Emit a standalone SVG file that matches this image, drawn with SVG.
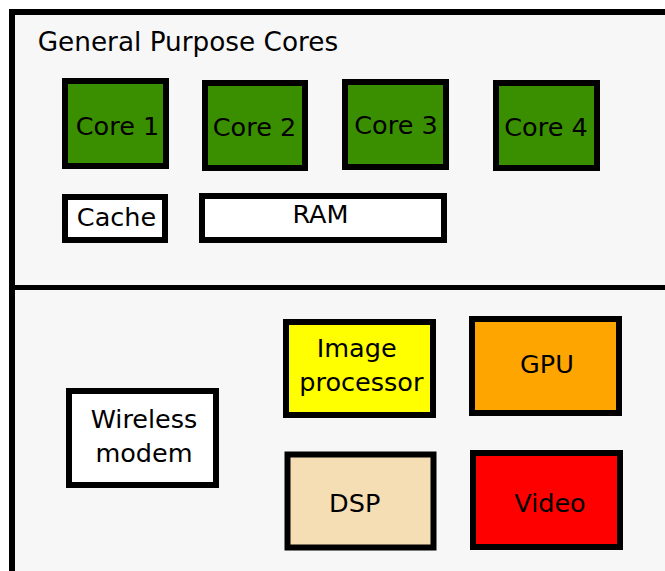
<svg xmlns="http://www.w3.org/2000/svg" width="665" height="571" viewBox="0 0 665 571">
<style>
text{font-family:"DejaVu Sans","Liberation Sans",sans-serif;font-size:25.5px;fill:#000;text-anchor:middle}
.box{stroke:#000;stroke-width:6}
.core{fill:#3a8f00}
.white{fill:#fff}
</style>
<rect width="665" height="571" fill="#fff"/>
<g id="frame">
<rect x="12" y="12" width="670" height="580" fill="#f7f7f7" stroke="#000" stroke-width="6"/>
<line x1="12" y1="287.5" x2="665" y2="287.5" stroke="#000" stroke-width="5"/>
<text x="37.7" y="51" style="text-anchor:start;font-size:26.3px">General Purpose Cores</text>
</g>
<g id="core1"><rect class="box core" x="65" y="81" width="101" height="85"/><text x="117.5" y="135">Core 1</text></g>
<g id="core2"><rect class="box core" x="205" y="83" width="100" height="85"/><text x="254.5" y="136">Core 2</text></g>
<g id="core3"><rect class="box core" x="345" y="82" width="101" height="85"/><text x="396" y="134">Core 3</text></g>
<g id="core4"><rect class="box core" x="496" y="83" width="101" height="85"/><text x="546" y="136">Core 4</text></g>
<g id="cache"><rect class="box white" x="65" y="197" width="100" height="43"/><text x="116.5" y="226">Cache</text></g>
<g id="ram"><rect class="box white" x="202" y="196" width="242" height="44"/><text x="320.5" y="223">RAM</text></g>
<g id="wireless"><rect class="box white" x="69" y="391" width="147" height="94"/><text x="144" y="428">Wireless</text><text x="144" y="462">modem</text></g>
<g id="image"><rect class="box" fill="#ffff00" x="286" y="322" width="147" height="93"/><text x="356.7" y="357">Image</text><text x="361.4" y="390.7">processor</text></g>
<g id="gpu"><rect class="box" fill="#ffa500" x="472" y="319" width="147" height="94"/><text x="547" y="373">GPU</text></g>
<g id="dsp"><rect class="box" fill="#f5deb3" x="287.5" y="454.5" width="146" height="93"/><text x="354.7" y="512">DSP</text></g>
<g id="video"><rect class="box" fill="#ff0000" x="473" y="453" width="147" height="94"/><text x="550" y="511.7">Video</text></g>
<g id="connectors"></g>
</svg>
